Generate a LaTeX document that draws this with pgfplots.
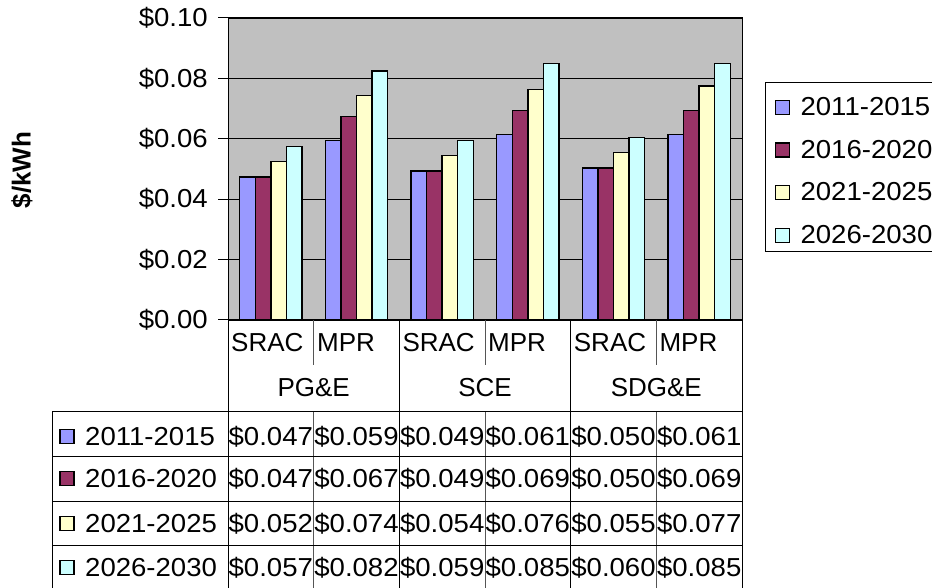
\documentclass[border=0pt]{standalone}
\usepackage{pgfplots}
\pgfplotsset{compat=1.18}
\usepackage{fontspec}
\setmainfont{Liberation Sans}
\newfontfamily\numfont{Liberation Sans}[FakeStretch=1.06]
\definecolor{c1}{HTML}{9999FF}
\definecolor{c2}{HTML}{993366}
\definecolor{c3}{HTML}{FFFFCC}
\definecolor{c4}{HTML}{CCFFFF}
\definecolor{bg}{HTML}{C0C0C0}
\definecolor{ln}{HTML}{555555}
\newcommand\cf{\fontsize{26}{31}\selectfont}
\newcommand\nf{\numfont\fontsize{26}{31}\selectfont}
\begin{document}
\begin{tikzpicture}[x=1pt,y=1pt]
\path[use as bounding box] (0,0) rectangle (932,588);
\begin{axis}[
  at={(228pt,268pt)}, anchor=south west,
  width=514pt, height=302pt, scale only axis,
  xmin=-0.5, xmax=5.5, ymin=0, ymax=0.1,
  ybar=0pt, bar width=0.1818,
  axis background/.style={fill=bg},
  xtick=\empty,
  ytick={0,0.02,0.04,0.06,0.08,0.1},
  yticklabels={\$0.00,\$0.02,\$0.04,\$0.06,\$0.08,\$0.10},
  yticklabel style={font=\nf, anchor=east, inner sep=0pt, xshift=-10pt},
  ytick pos=left,
  tick align=outside, major tick length=10pt,
  ytick style={black, line width=1pt},
  ymajorgrids, grid style={black, line width=0.8pt},
  axis line style={black, line width=1pt},
  every axis plot/.append style={draw=black, line width=1.5pt},
  legend image code/.code={\draw[#1,line width=1.2pt] (0pt,-7pt) rectangle (14pt,7pt); \path[draw=none,fill=none] (0pt,0pt) -- (25pt,0pt);},
  legend cell align=left,
  legend style={at={(1.0642,0.7368)}, anchor=north west, draw=none, fill=none,
    inner sep=0pt, outer sep=0pt, row sep=23pt, font=\nf, nodes={inner sep=0pt}},
]
\addplot[fill=c1] coordinates {(0,0.0474) (1,0.0594) (2,0.0494) (3,0.0614) (4,0.0504) (5,0.0614)};
\addplot[fill=c2] coordinates {(0,0.0474) (1,0.0674) (2,0.0494) (3,0.0694) (4,0.0504) (5,0.0694)};
\addplot[fill=c3] coordinates {(0,0.0524) (1,0.0744) (2,0.0544) (3,0.0764) (4,0.0554) (5,0.0774)};
\addplot[fill=c4] coordinates {(0,0.0574) (1,0.0824) (2,0.0594) (3,0.0849) (4,0.0604) (5,0.0849)};
\legend{2011-2015,2016-2020,2021-2025,2026-2030}
\end{axis}
% y label
\node[rotate=90, font=\cf\bfseries] at (22,418) {\$/kWh};
% legend frame
\draw[black, line width=1pt] (765,336) rectangle (960,505);
% category label area
\foreach \x in {228,399.3,570.7,742} \draw[black, line width=1pt] (\x,268) -- (\x,0);
\foreach \x in {313.7,485,656.3} \draw[ln, line width=1pt] (\x,268) -- (\x,223);
\foreach \x in {313.7,485,656.3} \draw[ln, line width=1pt] (\x,176) -- (\x,0);
\foreach \y in {176,131,86,42} \draw[black, line width=1pt] (52,\y) -- (742,\y);
\draw[black, line width=1pt] (52,176) -- (52,0);
\foreach \x/\t in {231/SRAC,317/MPR,402.3/SRAC,488/MPR,573.7/SRAC,659.3/MPR}
  \node[font=\cf, anchor=base west, inner sep=0pt] at (\x,236) {\t};
\foreach \x/\t in {313.7/PG\&E,485/SCE,656.3/SDG\&E}
  \node[font=\cf, anchor=base, inner sep=0pt] at (\x,191) {\t};
% table rows
\foreach \c/\n/\b in {c1/2011-2015/142,c2/2016-2020/100,c3/2021-2025/55,c4/2026-2030/11}{
  \draw[black, line width=1.2pt, fill=\c] (60,\b+2.5) rectangle (74,\b+16.5);
  \node[font=\nf, anchor=base west, inner sep=0pt] at (85,\b) {\n};
}
\foreach \b/\va/\vb/\vc/\vd/\ve/\vf in {142/047/059/049/061/050/061,100/047/067/049/069/050/069,55/052/074/054/076/055/077,11/057/082/059/085/060/085}{
  \node[font=\nf, anchor=base, inner sep=0pt] at (270.8,\b) {\$0.\va};
  \node[font=\nf, anchor=base, inner sep=0pt] at (356.5,\b) {\$0.\vb};
  \node[font=\nf, anchor=base, inner sep=0pt] at (442.2,\b) {\$0.\vc};
  \node[font=\nf, anchor=base, inner sep=0pt] at (527.8,\b) {\$0.\vd};
  \node[font=\nf, anchor=base, inner sep=0pt] at (613.5,\b) {\$0.\ve};
  \node[font=\nf, anchor=base, inner sep=0pt] at (699.2,\b) {\$0.\vf};
}
\end{tikzpicture}
\end{document}
